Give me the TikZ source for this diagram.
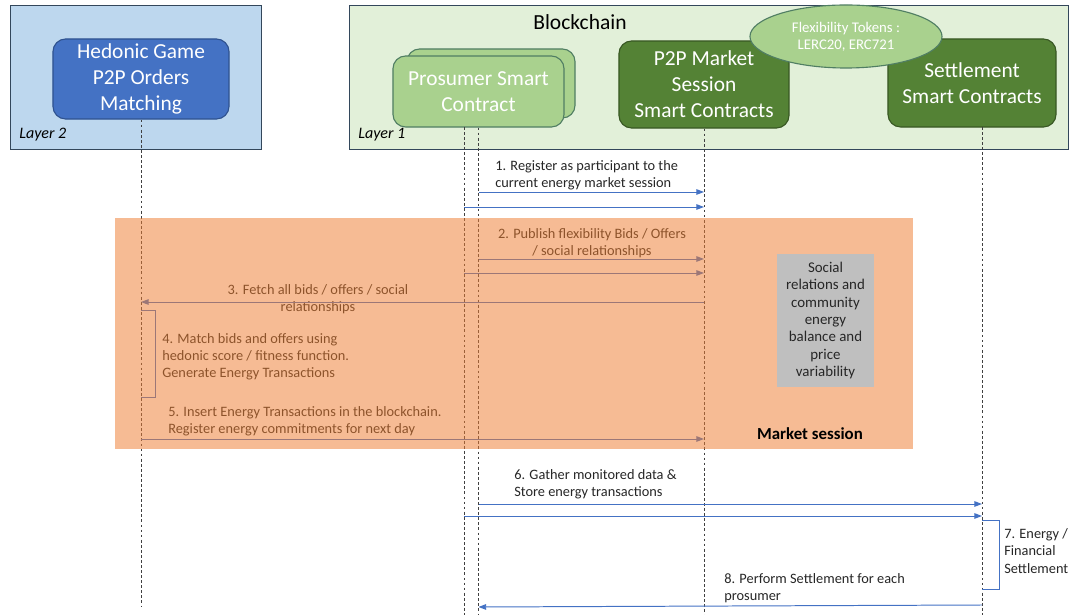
\documentclass[tikz,border=0pt]{standalone}
\usepackage{fontspec}
\setmainfont{Carlito}
\usepackage{tikz}
\usetikzlibrary{positioning, shapes.geometric, arrows.meta}

\definecolor{frameline}{HTML}{33475B}
\definecolor{layertwo}{HTML}{BDD7EE}
\definecolor{layerone}{HTML}{E2F0D9}
\definecolor{hedblue}{HTML}{4472C4}
\definecolor{hedline}{HTML}{2F528F}
\definecolor{lightgreen}{HTML}{A9D18E}
\definecolor{lightline}{HTML}{507E63}
\definecolor{darkgreen}{HTML}{548235}
\definecolor{darkline}{HTML}{385723}
\definecolor{msgblue}{HTML}{4472C4}
\definecolor{sessorange}{HTML}{ED7D31}
\definecolor{notegray}{HTML}{BFBFBF}

\begin{document}
\begin{tikzpicture}[
    x=0.025cm, y=-0.025cm,
    contract/.style={rectangle, rounded corners=9pt, draw, line width=0.8pt, align=center, text=white, font=\fontsize{15.2}{18.5}\selectfont},
    layer/.style={draw=frameline, line width=0.6pt},
    lifeline/.style={draw=black!75, line width=0.6pt, dash pattern=on 2pt off 1.6pt},
    msg/.style={draw=msgblue, line width=0.7pt, -{Triangle[length=5.5pt, width=4pt]}},
    bracket/.style={draw=msgblue, line width=0.7pt},
    msgtext/.style={inner sep=0, align=left, text=black!85, font=\fontsize{10.2}{12.2}\selectfont}
]
\useasboundingbox (0,0) rectangle (1073,615);

% Layers
\draw[layer, fill=layertwo] (10,5) rectangle (261,149);
\draw[layer, fill=layerone] (349,5) rectangle (1068,149);
\node (l2) [anchor=west, inner sep=0, font=\fontsize{11.4}{13}\selectfont\itshape] at (19,135) {Layer 2};
\node (l1) [anchor=west, inner sep=0, font=\fontsize{11.4}{13}\selectfont\itshape] at (358,135) {Layer 1};
\node (chain) [font=\fontsize{15.3}{18}\selectfont] at (580,22) {Blockchain};

% Contracts
\node (hedonic) [contract, fill=hedblue, draw=hedline, minimum width=4.4cm, minimum height=2cm] at (141,79) {Hedonic Game\\P2P Orders\\Matching};
\node (psback) [contract, fill=lightgreen, draw=lightline, minimum width=4.2cm, minimum height=1.725cm] at (491,83.5) {};
\node (ps) [contract, fill=lightgreen, draw=lightline, minimum width=4.275cm, minimum height=1.775cm] at (478.5,91.5) {Prosumer Smart\\Contract};
\node (p2p) [contract, fill=darkgreen, draw=darkline, minimum width=4.25cm, minimum height=2.175cm] at (704,84.5) {P2P Market\\Session\\Smart Contracts};
\node (settle) [contract, fill=darkgreen, draw=darkline, minimum width=4.2cm, minimum height=2.2cm] at (972,83) {Settlement\\Smart Contracts};
\node (tokens) [ellipse, draw=lightline, line width=0.8pt, fill=lightgreen, minimum width=4.8cm, minimum height=1.575cm, align=center, text=white, font=\fontsize{10.5}{12}\selectfont] at (846,36.5) {Flexibility Tokens :\\LERC20, ERC721};

% Lifelines
\coordinate (psA) at (464,127);
\coordinate (stl) at (982,127);
\draw[lifeline] (hedonic.south) -- (hedonic.south |- 0,607);
\draw[lifeline] (psA) -- (psA |- 0,615);
\draw[lifeline] (ps.south) -- (ps.south |- 0,615);
\draw[lifeline] (p2p.south) -- (p2p.south |- 0,615);
\draw[lifeline] (stl) -- (stl |- 0,615);

% Messages
\node (t1) [msgtext, anchor=west] at (495,175) {1. Register as participant to the\\current energy market session};
\draw[msg] (ps.south |- 0,192) -- (p2p.south |- 0,192);
\draw[msg] (psA |- 0,207) -- (p2p.south |- 0,207);

\node (t2) [msgtext, align=center] at (592,243) {2. Publish flexibility Bids / Offers\\/ social relationships};
\draw[msg] (ps.south |- 0,259) -- (p2p.south |- 0,259);
\draw[msg] (psA |- 0,273) -- (p2p.south |- 0,273);

\node (t3) [msgtext, align=center] at (318,299) {3. Fetch all bids / offers / social\\relationships};
\draw[msg] (p2p.south |- 0,302) -- (hedonic.south |- 0,302);

\node (t4) [msgtext, anchor=west] at (162,357) {4. Match bids and offers using\\hedonic score / fitness function.\\Generate Energy Transactions};
\draw[bracket] (hedonic.south |- 0,310) -- (155,310) -- (155,397) -- (hedonic.south |- 0,397);

\node (t5) [msgtext, anchor=west] at (168,421) {5. Insert Energy Transactions in the blockchain.\\Register energy commitments for next day};
\draw[msg] (hedonic.south |- 0,439) -- (p2p.south |- 0,439);

\node (t6) [msgtext, anchor=west] at (514,484) {6. Gather monitored data \&\\Store energy transactions};
\draw[msg] (ps.south |- 0,504) -- (stl |- 0,504);
\draw[msg] (psA |- 0,516) -- (stl |- 0,516);

\node (t7) [msgtext, anchor=west] at (1004,551) {7. Energy /\\Financial\\Settlement};
\draw[bracket] (stl |- 0,520) -- (999,520) -- (999,589) -- (stl |- 0,589);

\node (t8) [msgtext, anchor=west] at (724,588) {8. Perform Settlement for each\\prosumer};
\draw[msg] (stl |- 0,605) -- (ps.south |- 0,607);

% Market session
\fill[sessorange, fill opacity=0.52] (115,218) rectangle (913,449);
\node (note) [rectangle, fill=notegray, minimum width=2.425cm, minimum height=3.325cm, align=center, text=black!85, font=\fontsize{10.6}{12.4}\selectfont] at (825.5,320.5) {Social\\relations and\\community\\energy\\balance and\\price\\variability};
\node (session) [font=\fontsize{12}{14}\selectfont\bfseries] at (810,434) {Market session};

\end{tikzpicture}
\end{document}
